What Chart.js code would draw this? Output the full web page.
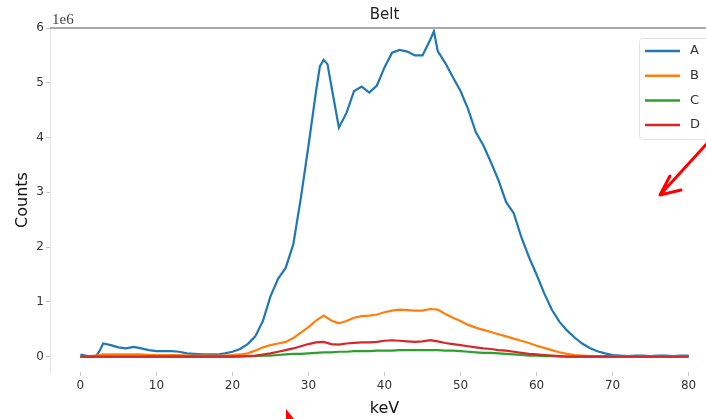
<!DOCTYPE html>
<html>
<head>
<meta charset="utf-8">
<script src="https://cdn.jsdelivr.net/npm/chart.js@4"></script>
<style>
  html, body { margin: 0; padding: 0; background: #fff; overflow: hidden; }
  #wrap { width: 730px; height: 419px; }
</style>
</head>
<body>
<div id="wrap"><canvas id="beltChart" width="730" height="419"></canvas></div>
<script>
// counts are in units of 1e6
const keVA = [
    0,1,2,2.5,3,4,5,6,7,8,9,10,11,12,13,14,15,16,17,18,19,20,
    21,22,23,24,25,26,27,28,29,30,31,31.5,32,32.5,33,34,35,36,37,38,39,40,
    41,42,43,44,45,46,46.5,47,48,49,50,51,52,53,54,55,56,57,58,59,60,
    61,62,63,64,65,66,67,68,69,70,71,72,73,74,75,76,77,78,79,80
];
const countsA = [
    0.04,0.01,0.00,0.10,0.24,0.21,0.17,0.15,0.18,0.15,0.12,0.10,0.10,0.10,0.09,0.06,0.05,0.04,0.04,0.04,0.06,0.09,
    0.14,0.23,0.37,0.65,1.10,1.42,1.62,2.05,2.90,3.85,4.85,5.30,5.42,5.34,4.95,4.18,4.45,4.85,4.93,4.82,4.95,5.28,
    5.55,5.60,5.57,5.50,5.50,5.78,5.94,5.58,5.36,5.10,4.85,4.52,4.10,3.86,3.55,3.22,2.82,2.62,2.18,1.82,1.50,
    1.16,0.86,0.64,0.48,0.35,0.24,0.16,0.10,0.06,0.03,0.02,0.01,0.02,0.02,0.01,0.02,0.02,0.01,0.02,0.02
];

const keV = [
    0,1,2,3,4,5,6,7,8,9,10,11,12,13,14,15,16,17,18,19,20,
    21,22,23,24,25,26,27,28,29,30,31,32,33,34,35,36,37,38,39,40,
    41,42,43,44,45,46,47,48,49,50,51,52,53,54,55,56,57,58,59,60,
    61,62,63,64,65,66,67,68,69,70,71,72,73,74,75,76,77,78,79,80
];
const countsB = [
    0.00,0.01,0.02,0.04,0.04,0.04,0.04,0.04,0.04,0.03,0.03,0.03,0.03,0.03,0.02,0.02,0.02,0.02,0.02,0.02,0.03,
    0.04,0.06,0.11,0.17,0.21,0.24,0.27,0.34,0.44,0.54,0.66,0.75,0.66,0.61,0.65,0.71,0.74,0.75,0.77,0.81,
    0.84,0.86,0.85,0.84,0.84,0.87,0.86,0.78,0.71,0.65,0.58,0.53,0.49,0.45,0.41,0.37,0.33,0.29,0.25,0.20,
    0.16,0.12,0.08,0.05,0.03,0.02,0.01,0.01,0.01,0.01,0.01,0.01,0.01,0.01,0.01,0.01,0.01,0.01,0.01,0.01
];
const countsC = [
    0,0,0,0,0,0,0,0,0,0,0,0,0,0,0,0,0,0,0,0,0,
    0.005,0.01,0.01,0.02,0.02,0.03,0.04,0.05,0.05,0.06,0.07,0.08,0.08,0.09,0.09,0.10,0.10,0.10,0.11,0.11,
    0.11,0.12,0.12,0.12,0.12,0.12,0.12,0.11,0.11,0.10,0.09,0.08,0.07,0.07,0.06,0.05,0.04,0.03,0.02,0.02,
    0.01,0.01,0.005,0,0,0,0,0,0,0,0,0,0,0,0,0,0,0,0,0
];
const countsD = [
    0,0,0,0,0,0,0,0,0,0,0,0,0,0,0,0,0,0,0,0,0,
    0.005,0.01,0.02,0.04,0.06,0.09,0.12,0.15,0.19,0.23,0.26,0.27,0.23,0.22,0.24,0.25,0.26,0.26,0.27,0.29,
    0.30,0.29,0.28,0.27,0.28,0.30,0.28,0.25,0.23,0.21,0.19,0.17,0.15,0.14,0.12,0.11,0.09,0.07,0.05,0.04,
    0.03,0.02,0.01,0,0,0,0,0,0,0,0,0,0,0,0,0,0,0,0,0
];

const seriesNames = ['A', 'B', 'C', 'D'];
const seriesColors = ['#1f77b4', '#ff7f0e', '#2ca02c', '#d62728'];
const xTicks = [0, 10, 20, 30, 40, 50, 60, 70, 80];
const yTicks = [0, 1, 2, 3, 4, 5, 6];

const toPoints = (xs, ys) => xs.map((x, i) => ({ x: x, y: ys[i] }));
const seriesData = [toPoints(keVA, countsA), toPoints(keV, countsB), toPoints(keV, countsC), toPoints(keV, countsD)];

// title, offset text, top spine, legend box and the red arrows
const decor = {
    id: 'decor',
    afterDraw(chart) {
        const { ctx, chartArea: a } = chart;
        ctx.save();

        ctx.strokeStyle = '#a8a8a8';
        ctx.lineWidth = 2;
        ctx.beginPath();
        ctx.moveTo(a.left, a.top);
        ctx.lineTo(a.right, a.top);
        ctx.stroke();

        ctx.fillStyle = '#222';
        ctx.font = '15px "DejaVu Sans"';
        ctx.textAlign = 'center';
        ctx.textBaseline = 'middle';
        ctx.fillText('Belt', (a.left + a.right) / 2, 15);

        ctx.font = '15px "Liberation Serif"';
        ctx.textAlign = 'left';
        ctx.fillStyle = '#444';
        ctx.fillText('1e6', a.left + 2, 20);

        // legend
        const lx = 639.5, ly = 38.5;
        ctx.fillStyle = 'rgba(255,255,255,0.85)';
        ctx.strokeStyle = '#e2e2e2';
        ctx.lineWidth = 1;
        ctx.beginPath();
        ctx.roundRect(lx, ly, 90, 101, 3);
        ctx.fill();
        ctx.stroke();
        ctx.font = '13px "DejaVu Sans"';
        ctx.textBaseline = 'middle';
        chart.data.datasets.forEach((ds, i) => {
            const y = 51 + i * 24.7;
            ctx.strokeStyle = ds.borderColor;
            ctx.lineWidth = 2.5;
            ctx.beginPath();
            ctx.moveTo(645, y);
            ctx.lineTo(680, y);
            ctx.stroke();
            ctx.fillStyle = '#333';
            ctx.fillText(ds.label, 690, y);
        });

        // red annotation arrows
        ctx.strokeStyle = '#ff0000';
        ctx.fillStyle = '#ff0000';
        ctx.lineWidth = 3;
        ctx.lineCap = 'round';
        ctx.lineJoin = 'round';
        ctx.beginPath();
        ctx.moveTo(712, 138);
        ctx.lineTo(660, 195);
        ctx.moveTo(670, 176);
        ctx.lineTo(660, 195);
        ctx.lineTo(681, 190);
        ctx.stroke();
        ctx.beginPath();
        ctx.moveTo(286, 409);
        ctx.lineTo(294, 419);
        ctx.lineTo(286, 419);
        ctx.closePath();
        ctx.fill();

        ctx.restore();
    }
};

const ctx = document.getElementById('beltChart').getContext('2d');

const config = {
    type: 'line',
    data: {
        datasets: seriesNames.map((name, i) => ({
            label: name,
            data: seriesData[i],
            borderColor: seriesColors[i],
            backgroundColor: seriesColors[i],
            borderWidth: 2.2,
            pointRadius: 0,
            tension: 0,
            fill: false,
            order: seriesNames.length - i
        }))
    },
    options: {
        responsive: false,
        animation: false,
        layout: { padding: { top: 28, right: 11, left: 0, bottom: 0 } },
        plugins: {
            legend: { display: false },
            title: { display: false },
            tooltip: { enabled: false }
        },
        scales: {
            x: {
                type: 'linear',
                min: -4,
                max: 84,
                afterBuildTicks: (scale) => { scale.ticks = xTicks.map(v => ({ value: v })); },
                afterFit: (scale) => { scale.height = 47; },
                grid: { drawOnChartArea: false, drawTicks: true, tickLength: 4, color: '#c8c8c8' },
                border: { display: false },
                ticks: { color: '#333', font: { family: 'DejaVu Sans', size: 12 }, padding: 3, maxRotation: 0 },
                title: {
                    display: true,
                    text: 'keV',
                    color: '#111',
                    font: { family: 'DejaVu Sans', size: 16 },
                    padding: { top: 0, bottom: 1 }
                }
            },
            y: {
                type: 'linear',
                min: -0.28,
                max: 6.0,
                afterBuildTicks: (scale) => { scale.ticks = yTicks.map(v => ({ value: v })); },
                afterFit: (scale) => { scale.width = 50; },
                grid: { drawOnChartArea: false, drawTicks: true, tickLength: 4, color: '#c8c8c8' },
                border: { display: true, color: '#e4e4e4', width: 1 },
                ticks: { color: '#333', font: { family: 'DejaVu Sans', size: 12 }, padding: 2 },
                title: {
                    display: true,
                    text: 'Counts',
                    color: '#111',
                    font: { family: 'DejaVu Sans', size: 16 },
                    padding: { top: 13, bottom: 0 }
                }
            }
        }
    },
    plugins: [decor]
};

const beltChart = new Chart(ctx, config);
</script>
</body>
</html>
